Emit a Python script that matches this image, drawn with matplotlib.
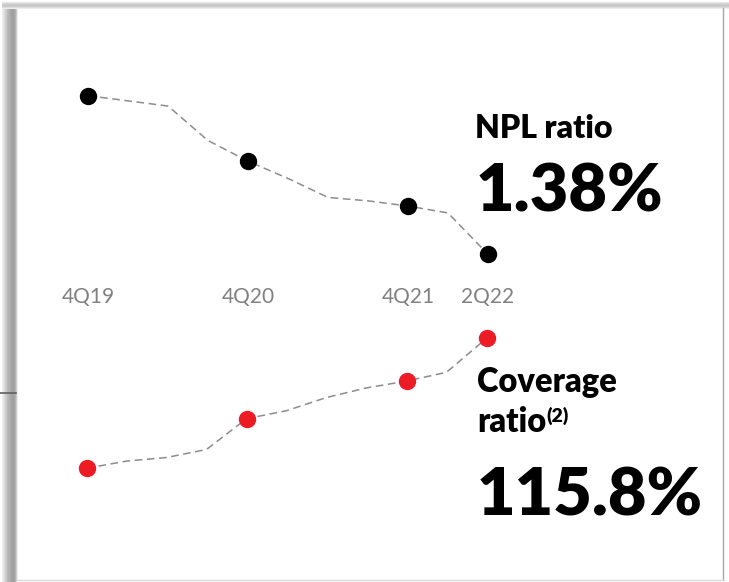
import matplotlib.pyplot as plt
from matplotlib.patches import Rectangle

# quarterly series, 4Q19 .. 2Q22
quarters = ['4Q19', '1Q20', '2Q20', '3Q20', '4Q20', '1Q21', '2Q21',
            '3Q21', '4Q21', '1Q22', '2Q22']
npl_ratio = [2.30, 2.27, 2.24, 2.04, 1.92, 1.82, 1.71, 1.69, 1.66, 1.62, 1.38]
coverage_ratio = [83.3, 85.1, 86.0, 88.0, 95.7, 97.7, 101.0, 103.4, 105.1, 107.3, 115.8]
shown = [0, 4, 8, 10]  # quarters that get a dot and a label

W, H = 729, 582
fig = plt.figure(figsize=(W / 100, H / 100), dpi=100)
fig.patch.set_facecolor('white')


def px_box(x0, y0, x1, y1):
    return [x0 / W, 1 - y1 / H, (x1 - x0) / W, (y1 - y0) / H]


# background frame with a soft shadow
bg = fig.add_axes([0, 0, 1, 1], zorder=-5)
bg.set_xlim(0, W)
bg.set_ylim(H, 0)
bg.axis('off')
left_grays = [0.93, 0.90, 0.86, 0.82, 0.78, 0.74, 0.71, 0.68, 0.66, 0.64,
              0.63, 0.62, 0.64, 0.70, 0.80, 0.92]
for i, g in enumerate(left_grays):
    bg.add_patch(Rectangle((2 + i, 3), 1, H, color=str(g), lw=0))
top_grays = [0.90, 0.84, 0.80, 0.78, 0.80, 0.86, 0.93]
for i, g in enumerate(top_grays):
    bg.add_patch(Rectangle((2, 2 + i), W, 1, color=str(g), lw=0))
bg.add_patch(Rectangle((18, 9), 705, 570, facecolor='white', lw=0))
bg.plot([723.5, 723.5], [8, 580], color='#a6a6a6', lw=1.0)
bg.plot([18, 724], [579.5, 579.5], color='#d9d9d9', lw=1.0)
bg.plot([0, 16], [393, 393], color='#606060', lw=1.2)

xs = list(range(len(quarters)))

# NPL ratio panel
ax1 = fig.add_axes(px_box(48, 60, 528, 280))
ax1.plot(xs, npl_ratio, color='#8c8c8c', lw=1.1, ls=(0, (5, 3)), zorder=1)
ax1.plot([xs[i] for i in shown], [npl_ratio[i] for i in shown], 'o',
         color='black', ms=11.5, zorder=2)
ax1.set_xlim(-1, 11)
ax1.set_ylim(1.231, 2.507)
ax1.set_xticks([xs[i] for i in shown])
ax1.set_xticklabels([quarters[i] for i in shown], family='Lato', fontsize=15,
                    color='#808080')
ax1.tick_params(axis='x', length=0, pad=5)
ax1.set_yticks([])
for s in ax1.spines.values():
    s.set_visible(False)
ax1.patch.set_alpha(0)

# coverage ratio panel
ax2 = fig.add_axes(px_box(46.5, 320, 526.5, 490))
ax2.plot(xs, coverage_ratio, color='#8c8c8c', lw=1.1, ls=(0, (5, 3)), zorder=1)
ax2.plot([xs[i] for i in shown], [coverage_ratio[i] for i in shown], 'o',
         color='#ed1c24', ms=11.5, zorder=2)
ax2.set_xlim(-1, 11)
ax2.set_ylim(77.875, 120.375)
ax2.axis('off')


def ftext(x, y, s, size, **kw):
    fig.text(x / W, 1 - y / H, s, fontsize=size, family='Lato',
             fontweight='heavy', va='baseline', ha='left', **kw)


ftext(475, 138.5, 'NPL ratio', 23)
ftext(476, 212, f'{npl_ratio[-1]:.2f}%', 48)
ftext(477, 392, 'Coverage', 23.5)
ftext(477, 432, 'ratio', 23.5)
ftext(546, 422, '(2)', 14)
ftext(477, 515, f'{coverage_ratio[-1]:.1f}%', 48)

fig.savefig('out.png', dpi=100)
